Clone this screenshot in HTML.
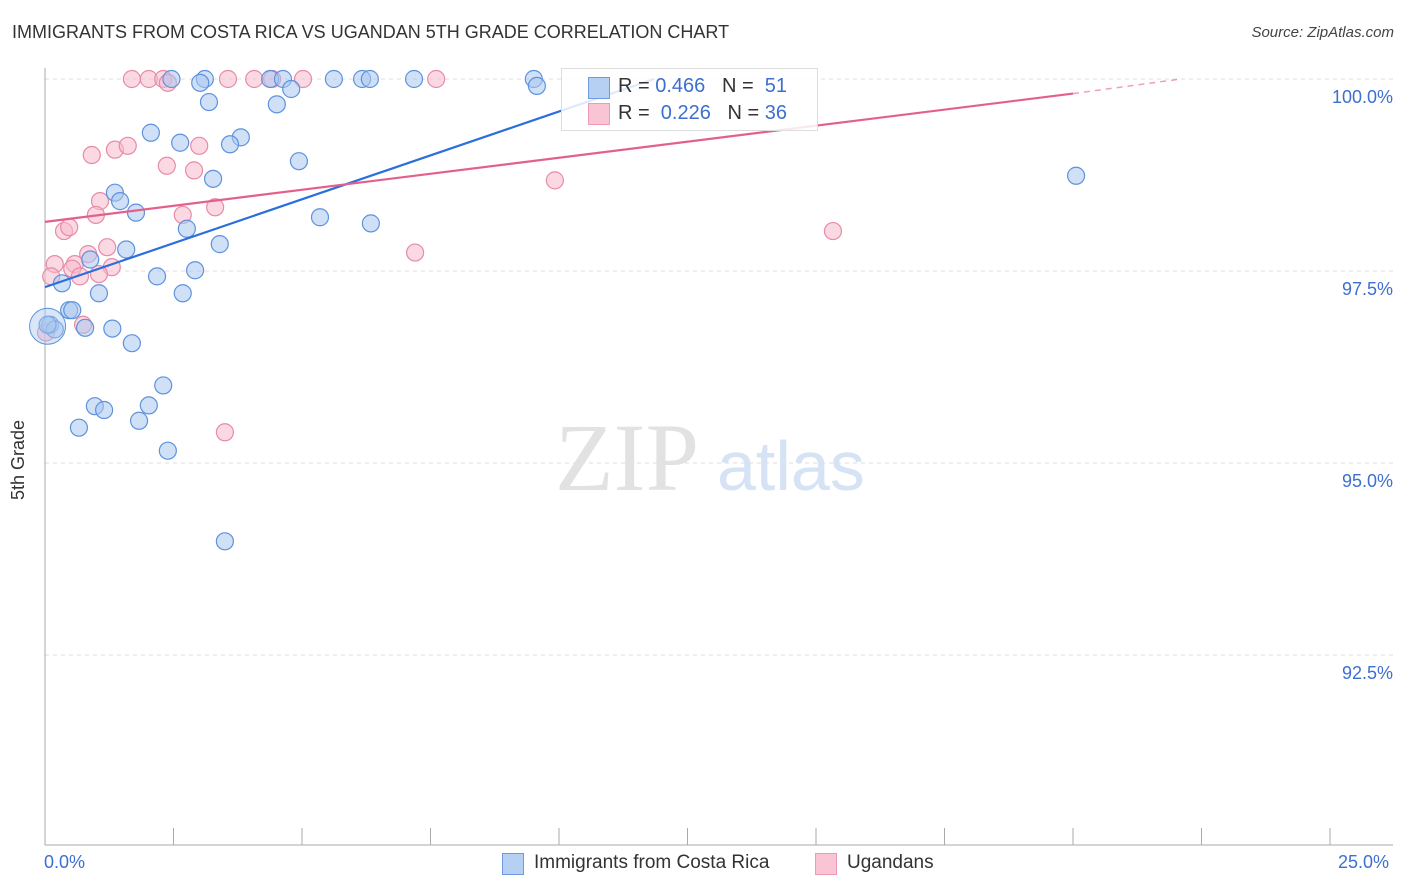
<!DOCTYPE html>
<html><head><meta charset="utf-8"><style>
body{margin:0;background:#fff;font-family:"Liberation Sans",sans-serif;}
#wrap{position:relative;width:1406px;height:892px;overflow:hidden;}
.t{position:absolute;white-space:nowrap;}
</style></head><body>
<div id="wrap">
<div class="t" style="left:12px;top:22px;font-size:18px;color:#333;">IMMIGRANTS FROM COSTA RICA VS UGANDAN 5TH GRADE CORRELATION CHART</div>
<div class="t" style="right:12px;top:24px;font-size:15px;color:#444;font-style:italic;">Source: ZipAtlas.com</div>
<svg id="svg" width="1406" height="892" style="position:absolute;left:0;top:0"></svg>
</div>
<script>
const blueX=[2.46,3.11,3.02,4.38,4.63,5.62,6.17,6.32,7.18,9.51,9.57,4.79,3.19,4.51,2.06,2.63,3.81,3.6,4.94,3.27,20.06,1.36,1.46,1.77,5.35,6.34,2.76,3.4,1.58,0.88,2.92,2.18,0.33,1.05,2.68,0.47,0.53,0.78,1.31,0.1,0.19,1.69,2.3,0.97,1.15,2.02,0.66,1.83,2.39,3.5,0.05];
const blueY=[100,100,99.95,100,100,100,100,100,100,100,99.91,99.87,99.7,99.67,99.3,99.17,99.24,99.15,98.93,98.7,98.74,98.52,98.41,98.26,98.2,98.12,98.05,97.85,97.78,97.65,97.51,97.43,97.34,97.21,97.21,96.99,96.99,96.76,96.75,96.8,96.74,96.56,96.01,95.74,95.69,95.75,95.46,95.55,95.16,93.98,96.8];
const pinkX=[1.69,2.02,2.3,2.39,3.56,4.07,4.42,5.02,7.61,0.91,1.36,1.61,3.0,2.37,2.9,9.92,1.07,3.31,0.99,2.68,0.37,0.47,15.33,1.21,0.84,7.2,0.58,0.19,1.3,0.53,1.05,0.12,0.68,0.74,3.5,0.02];
const pinkY=[100,100,100,99.95,100,100,100,100,100,99.01,99.08,99.13,99.13,98.87,98.81,98.68,98.41,98.33,98.23,98.23,98.02,98.07,98.02,97.81,97.72,97.74,97.59,97.59,97.55,97.53,97.46,97.43,97.43,96.8,95.4,96.7];
const xTicks=[0,2.5,5,7.5,10,12.5,15,17.5,20,22.5,25];
const yTicks=[100,97.5,95,92.5];
const yTickLabels=["100.0%","97.5%","95.0%","92.5%"];
const blueLine=[0,97.29,11.85,100];
const pinkLine=[0,98.14,20,99.81,22.1,100];
const X=v=>45+v*51.4, Y=v=>79+(100-v)*76.8;
const svg=document.getElementById('svg');const NS='http://www.w3.org/2000/svg';
function el(t,a,p){const e=document.createElementNS(NS,t);for(const k in a)e.setAttribute(k,a[k]);(p||svg).appendChild(e);return e;}
yTicks.forEach((v,i)=>{
 const g=el('line',{x1:45,x2:1393,y1:Y(v),y2:Y(v),stroke:'#ddd','stroke-dasharray':'4,4'});
 
 
 const t=el('text',{x:1393,y:Y(v)+24,'text-anchor':'end','font-size':18,fill:'#3d6fd0','font-family':'Liberation Sans'});
 t.textContent=yTickLabels[i];
 
 
});
el('line',{x1:45,x2:45,y1:68,y2:845,stroke:'#aaa'});
el('line',{x1:45,x2:1393,y1:845,y2:845,stroke:'#aaa'});
xTicks.forEach(v=>{const l=el('line',{x1:X(v),x2:X(v),y1:828,y2:845,stroke:'#aaa'});
 
 });
const wm=el('text',{x:555,y:490,'font-size':96,fill:'#e2e2e2','font-family':'Liberation Serif'});wm.textContent='ZIP';


const wm2=el('text',{x:717,y:490,'font-size':70,fill:'#d6e3f5','font-family':'Liberation Sans'});wm2.textContent='atlas';
function dots(xs,ys,fill,stroke,name){xs.forEach((x,i)=>{const c=el('circle',{cx:X(x),cy:Y(ys[i]),r:8.5,fill:fill,'fill-opacity':0.55,stroke:stroke,'stroke-width':1.2});
 
 });}
dots(pinkX,pinkY,'#f7b9cc','#e88aa8','ugandans-point');
dots(blueX,blueY,'#a9c7f0','#5d92dd','costa-rica-point');
el('circle',{cx:X(0.05),cy:Y(96.78),r:18,fill:'#a9c7f0','fill-opacity':0.45,stroke:'#5d92dd'});
const bl=el('line',{x1:X(blueLine[0]),y1:Y(blueLine[1]),x2:X(blueLine[2]),y2:Y(blueLine[3]),stroke:'#2a6fdb','stroke-width':2.2});


const pl=el('line',{x1:X(pinkLine[0]),y1:Y(pinkLine[1]),x2:X(pinkLine[2]),y2:Y(pinkLine[3]),stroke:'#e4608c','stroke-width':2.2});


el('line',{x1:X(pinkLine[2]),y1:Y(pinkLine[3]),x2:X(pinkLine[4]),y2:Y(pinkLine[5]),stroke:'#e4608c','stroke-width':1.5,'stroke-dasharray':'6,5','stroke-opacity':0.6});
</script>
<div class="t" style="left:561px;top:68px;width:255px;height:61px;border:1px solid #ddd;background:rgba(255,255,255,0.85);">
 <div style="position:absolute;left:26px;top:8px;width:20px;height:20px;background:#b6d0f3;border:1px solid #6d9ae0;"></div>
 <div class="t" style="left:56px;top:6px;font-size:20px;color:#333;">R = <span style="color:#3d6fd0">0.466</span>&nbsp;&nbsp;&nbsp;N = &nbsp;<span style="color:#3d6fd0">51</span></div>
 <div style="position:absolute;left:26px;top:34px;width:20px;height:20px;background:#f9c5d5;border:1px solid #ee9ab4;"></div>
 <div class="t" style="left:56px;top:33px;font-size:20px;color:#333;">R = &nbsp;<span style="color:#3d6fd0">0.226</span>&nbsp;&nbsp;&nbsp;N = <span style="color:#3d6fd0">36</span></div>
</div>
<div class="t" style="left:44px;top:852px;font-size:18px;color:#3d6fd0;">0.0%</div>
<div class="t" style="left:1338px;top:852px;font-size:18px;color:#3d6fd0;">25.0%</div>
<div class="t" style="left:8px;top:500px;font-size:18px;color:#333;transform:rotate(-90deg);transform-origin:0 0;">5th Grade</div>
<div class="t" style="left:502px;top:853px;width:20px;height:20px;background:#b6d0f3;border:1px solid #6d9ae0;"></div>
<div class="t" style="left:534px;top:852px;font-size:19px;color:#333;">Immigrants from Costa Rica</div>
<div class="t" style="left:815px;top:853px;width:20px;height:20px;background:#f9c5d5;border:1px solid #ee9ab4;"></div>
<div class="t" style="left:847px;top:852px;font-size:19px;color:#333;">Ugandans</div>
</body></html>
